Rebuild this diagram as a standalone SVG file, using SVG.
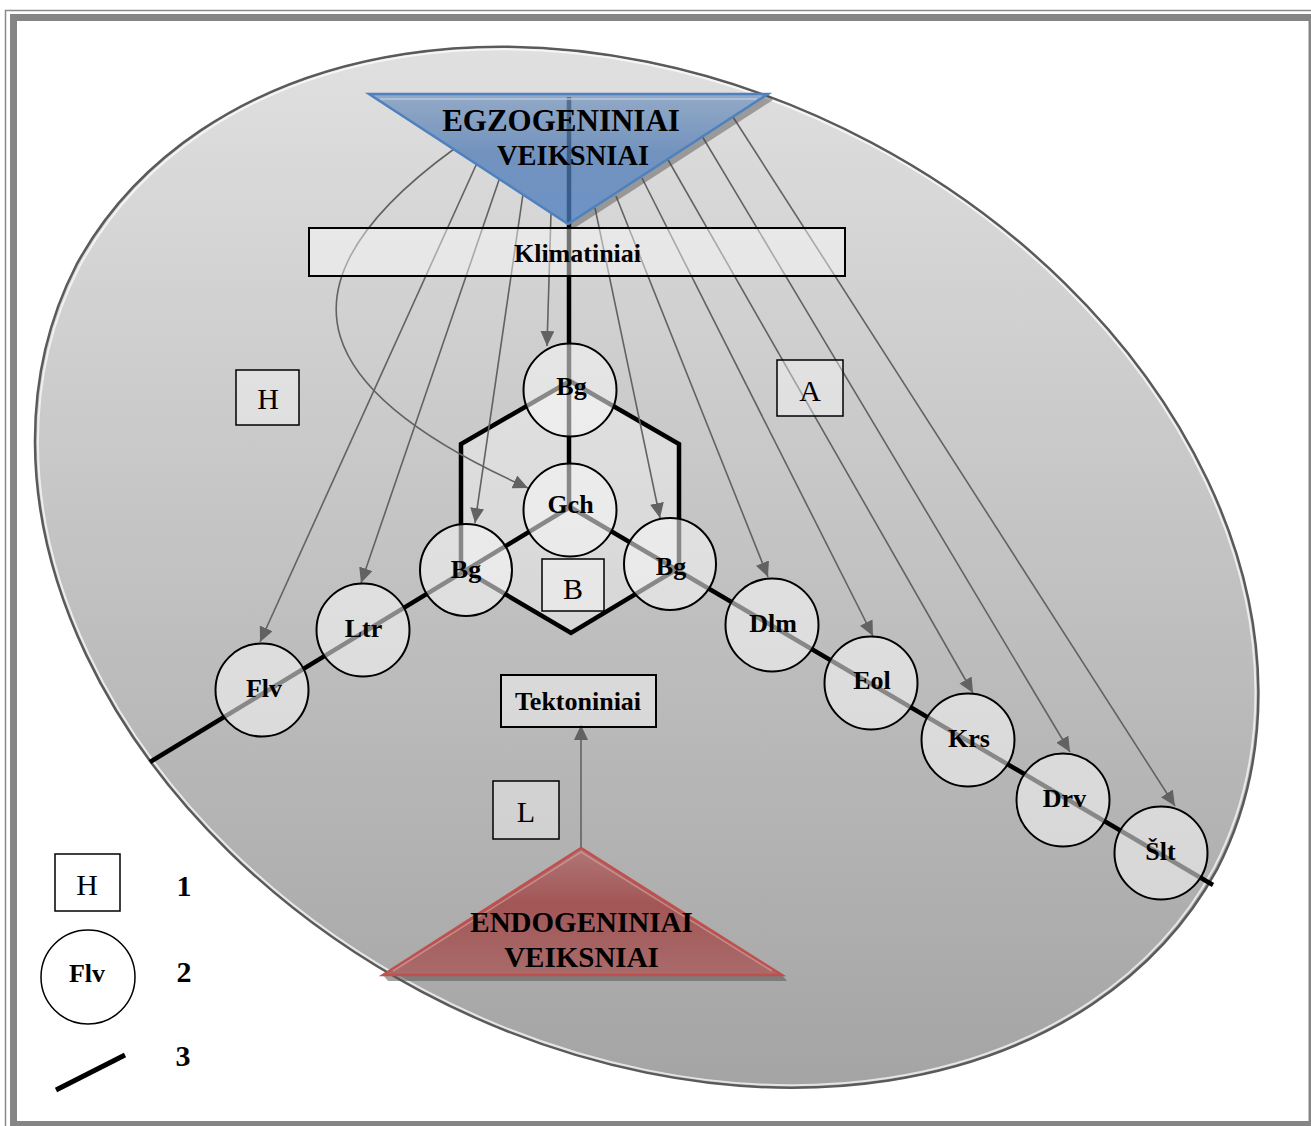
<svg xmlns="http://www.w3.org/2000/svg" width="1311" height="1126" viewBox="0 0 1311 1126">
  <defs>
    <linearGradient id="fieldGrad" x1="0" y1="0" x2="0" y2="1">
      <stop offset="0" stop-color="#e0e0e0"/>
      <stop offset="1" stop-color="#a4a4a4"/>
    </linearGradient>
    <linearGradient id="egzGrad" x1="0" y1="0" x2="0" y2="1">
      <stop offset="0" stop-color="#7a98bf"/>
      <stop offset="0.45" stop-color="#507bb5"/>
      <stop offset="1" stop-color="#4a7cc0"/>
    </linearGradient>
    <linearGradient id="endoGrad" x1="0" y1="0" x2="0" y2="1">
      <stop offset="0" stop-color="#b07676"/>
      <stop offset="0.45" stop-color="#a25656"/>
      <stop offset="1" stop-color="#a96b6b"/>
    </linearGradient>
    <marker id="arr" markerUnits="userSpaceOnUse" markerWidth="16" markerHeight="14" refX="15" refY="7" orient="auto">
      <path d="M0,0 L15,7 L0,14 z" fill="#626262"/>
    </marker>
  </defs>
  <style>
    .frame-thin{fill:none;stroke:#8a8a8a;stroke-width:1.5}
    .frame-thick{fill:none;stroke:#858585;stroke-width:7}
    .axis{stroke:#000;stroke-width:4.5;fill:none}
    .arrow{stroke:#626262;stroke-width:1.6;fill:none;marker-end:url(#arr)}
    .node circle{fill:#f7f7f7;fill-opacity:0.55;stroke:#000;stroke-width:2}
    .lbl{font-family:"Liberation Serif","Times New Roman",serif;font-weight:bold;font-size:26px;text-anchor:middle;fill:#000}
    .box{fill:#fff;fill-opacity:0.45;stroke:#000;stroke-width:2}
    .tag rect{fill:#fff;fill-opacity:0.4;stroke:#000;stroke-width:1.5}
    .tag text{font-family:"Liberation Serif","Times New Roman",serif;font-size:30px;text-anchor:middle;fill:#000}
    .big{font-family:"Liberation Serif","Times New Roman",serif;font-weight:bold;text-anchor:middle;fill:#000}
  </style>

  <rect x="0" y="0" width="1311" height="1126" fill="#fff"/>

  <!-- tilted field -->
  <g id="field">
    <path d="M76.5,264.7 A645.5,484.9 27.95 0 1 1216.9,869.7 A645.5,484.9 27.95 0 1 76.5,264.7 Z" fill="url(#fieldGrad)" stroke="#5a5a5a" stroke-width="2.5"/>
    <path d="M79.6,266.3 A642,481.4 27.95 0 1 1213.8,868.1 A642,481.4 27.95 0 1 79.6,266.3 Z" fill="none" stroke="#fff" stroke-width="2" stroke-opacity="0.7"/>
  </g>

  <!-- hexagonal core -->
  <g id="hex">
    <polygon points="570,381 679,444 679,568 571,633 461,568 461,444" fill="#fff" fill-opacity="0.38" stroke="#000" stroke-width="4.5" stroke-linejoin="miter"/>
  </g>

  <!-- connectors -->
  <g id="connectors">
    <line class="axis" x1="569" y1="97" x2="569" y2="508"/>
    <line class="axis" x1="570" y1="507" x2="150" y2="762"/>
    <line class="axis" x1="570" y1="507" x2="1213" y2="885"/>

    <path class="arrow" d="M454,149 C260,290 320,395 528,488"/>
    <path class="arrow" d="M477,163 L260,642"/>
    <path class="arrow" d="M499,180 L361,583"/>
    <path class="arrow" d="M523,194 L475,523"/>
    <path class="arrow" d="M551,213 L547,346"/>
    <path class="arrow" d="M595,208 L660,518"/>
    <path class="arrow" d="M616,196 L768,577"/>
    <path class="arrow" d="M642,178 L873,636"/>
    <path class="arrow" d="M667,158 L973,693"/>
    <path class="arrow" d="M702,136 L1070,752"/>
    <path class="arrow" d="M733,117 L1175,806"/>
    <path class="arrow" d="M581,848 L581,725"/>
  </g>

  <!-- exogenous factors -->
  <g id="egzogeniniai">
    <polygon points="768,95 773,100 573,229 568,224" fill="#4a4a4a" fill-opacity="0.45"/>
    <polygon points="369,94 768,94 568,224" fill="url(#egzGrad)" fill-opacity="0.75" stroke="#4f81bd" stroke-width="2.5" stroke-linejoin="miter"/>
    <line x1="380" y1="99" x2="757" y2="99" stroke="#c2d0e2" stroke-width="2" stroke-opacity="0.6"/>
    <text class="big" x="561" y="131" font-size="31">EGZOGENINIAI</text>
    <text class="big" x="573" y="165" font-size="28.5">VEIKSNIAI</text>
  </g>

  <g id="klimatiniai">
    <rect class="box" x="309" y="228" width="536" height="48"/>
    <text class="lbl" x="577.5" y="262">Klimatiniai</text>
  </g>

  <!-- area tags -->
  <g id="tag-h" class="tag">
    <rect x="236" y="370" width="63" height="55"/>
    <text x="268" y="409">H</text>
  </g>
  <g id="tag-a" class="tag">
    <rect x="777" y="360" width="66" height="56"/>
    <text x="810" y="401">A</text>
  </g>
  <g id="tag-b" class="tag">
    <rect x="542" y="559" width="62" height="52"/>
    <text x="573" y="599">B</text>
  </g>
  <g id="tag-l" class="tag">
    <rect x="493" y="781" width="66" height="58"/>
    <text x="526" y="822">L</text>
  </g>

  <!-- process nodes -->
  <g id="bg-top" class="node"><circle cx="570" cy="390" r="46.5"/><text class="lbl" x="571.5" y="395">Bg</text></g>
  <g id="gch" class="node"><circle cx="570" cy="510" r="46.5"/><text class="lbl" x="570.5" y="513">Gch</text></g>
  <g id="bg-left" class="node"><circle cx="466" cy="570" r="46"/><text class="lbl" x="466" y="578">Bg</text></g>
  <g id="bg-right" class="node"><circle cx="670" cy="564" r="46"/><text class="lbl" x="671" y="575">Bg</text></g>
  <g id="ltr" class="node"><circle cx="363" cy="630" r="46.5"/><text class="lbl" x="363.5" y="637">Ltr</text></g>
  <g id="flv" class="node"><circle cx="262" cy="690" r="46.5"/><text class="lbl" x="264" y="697">Flv</text></g>
  <g id="dlm" class="node"><circle cx="772" cy="625" r="46.5"/><text class="lbl" x="773" y="632">Dlm</text></g>
  <g id="eol" class="node"><circle cx="871" cy="683" r="46.5"/><text class="lbl" x="872" y="689">Eol</text></g>
  <g id="krs" class="node"><circle cx="968" cy="740" r="46.5"/><text class="lbl" x="969" y="747">Krs</text></g>
  <g id="drv" class="node"><circle cx="1063" cy="800" r="46.5"/><text class="lbl" x="1064.5" y="807">Drv</text></g>
  <g id="slt" class="node"><circle cx="1161" cy="853" r="46.5"/><text class="lbl" x="1160.5" y="860">Šlt</text></g>

  <g id="tektoniniai">
    <rect class="box" x="501" y="675" width="155" height="52"/>
    <text class="lbl" x="578" y="710">Tektoniniai</text>
  </g>

  <!-- endogenous factors -->
  <g id="endogeniniai">
    <polygon points="383,975 782,975 787,981 388,981" fill="#555" fill-opacity="0.55"/>
    <polygon points="581,848 383,975 782,975" fill="url(#endoGrad)" stroke="#c0504d" stroke-width="2.5" stroke-linejoin="miter"/>
    <polyline points="393,971 581,852 772,971" fill="none" stroke="#dba7a5" stroke-width="1.5" stroke-opacity="0.6"/>
    <text class="big" x="581.5" y="932" font-size="29">ENDOGENINIAI</text>
    <text class="big" x="581.5" y="967" font-size="29">VEIKSNIAI</text>
  </g>

  <!-- legend -->
  <g id="legend">
    <g class="tag">
      <rect x="55" y="854" width="65" height="57" style="fill:#fff;fill-opacity:1"/>
      <text x="87" y="895">H</text>
    </g>
    <circle cx="88" cy="977" r="47" fill="#fff" stroke="#000" stroke-width="1.5"/>
    <text class="lbl" x="87" y="982">Flv</text>
    <line x1="56" y1="1090" x2="125" y2="1055" stroke="#000" stroke-width="5"/>
    <text class="big" x="184" y="896" font-size="30">1</text>
    <text class="big" x="184" y="982" font-size="30">2</text>
    <text class="big" x="183" y="1066" font-size="30">3</text>
  </g>

  <!-- page frame -->
  <g id="frame">
    <rect class="frame-thin" x="5.5" y="10.5" width="1330" height="1140"/>
    <rect class="frame-thick" x="13.5" y="17.5" width="1298.5" height="1107"/>
  </g>
</svg>
